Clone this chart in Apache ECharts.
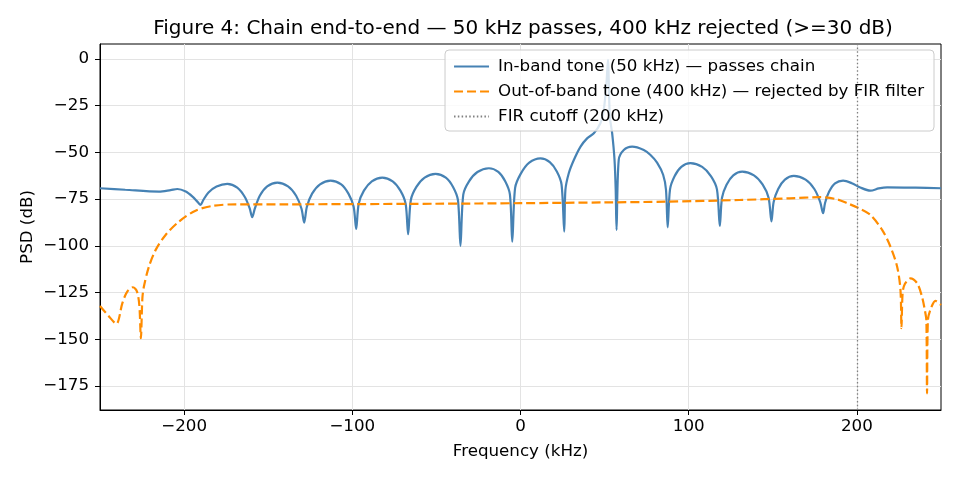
<!DOCTYPE html>
<html>
<head>
<meta charset="utf-8">
<script src="https://cdn.jsdelivr.net/npm/echarts@6/dist/echarts.min.js"></script>
<style>
    html, body {margin: 0; padding: 0; background: #fff;}
    #chart {width: 960px; height: 480px;}
</style>
</head>
<body>
<div id="chart"></div>
<script>
// 带内信号 50 kHz（蓝线）
var inBandKHz = [-250, -235, -215, -208, -204, -199, -195, -192, -190.2, -188.6, -185.5, -180.7, -174.3, -168.4, -163.9, -161.0,
    -159.5, -158.0, -155.0, -150.6, -144.6, -138.2, -133.4, -130.2, -128.6, -127.0, -123.9, -119.2, -112.9, -106.6, -102.3, -99.2,
    -97.7, -96.2, -93.1, -88.4, -82.2, -76.0, -71.4, -68.3, -66.8, -65.2, -61.9, -57.0, -50.5, -44.4, -40.1, -37.2,
    -35.7, -34.0, -30.6, -25.6, -18.8, -13.2, -9.1, -6.3, -4.9, -3.2, 0.1, 5.2, 11.9, 17.4, 21.6, 24.4,
    26.0, 26.7, 28.7, 31.7, 35.7, 39.6, 43.6, 47.5, 49.5, 51.1, 52.0, 53.1, 54.5, 55.9, 56.6, 57.1,
    58.4, 61.4, 66.4, 73.3, 77.3, 81.2, 84.8, 86.5, 87.5, 88.9, 91.6, 95.6, 101.0, 108.0, 113.3, 116.8,
    118.5, 119.8, 122.5, 126.5, 131.8, 138.8, 144.0, 147.5, 149.2, 150.5, 153.2, 157.2, 162.5, 169.5, 174.7, 178.2,
    179.9, 181.1, 183.5, 187.0, 191.8, 197.0, 202.0, 208.0, 213.0, 218.0, 235.0, 250];
var inBandDb = [-69.2, -70.0, -71.0, -70.2, -69.6, -71.0, -73.7, -76.5, -78.1, -75.5, -71.5, -68.3, -66.9, -68.9, -73.9, -80.0,
    -84.7, -80.2, -73.2, -68.2, -66.2, -68.2, -73.2, -80.2, -87.6, -79.1, -72.1, -67.1, -65.1, -67.1, -72.1, -79.1,
    -91.0, -77.5, -70.5, -65.5, -63.5, -65.5, -70.5, -77.5, -93.8, -75.5, -68.5, -63.5, -61.5, -63.5, -68.5, -75.5,
    -100.0, -72.5, -65.5, -60.5, -58.5, -60.5, -65.5, -72.5, -97.8, -69.0, -61.5, -55.5, -53.2, -55.2, -60.2, -67.2,
    -92.4, -70.1, -61.2, -54.1, -46.9, -42.5, -39.8, -34.4, -27.3, -13.0, -0.5, -30.9, -39.8, -54.0, -70.1, -91.5,
    -54.0, -48.7, -46.9, -48.7, -51.4, -55.5, -62.0, -70.0, -90.1, -69.8, -62.8, -57.8, -55.8, -57.8, -62.8, -69.8,
    -89.4, -74.3, -67.3, -62.3, -60.3, -62.3, -67.3, -74.3, -87.0, -76.6, -69.6, -64.6, -62.6, -64.6, -69.6, -76.6,
    -82.6, -77.0, -71.0, -66.6, -65.1, -66.5, -68.8, -70.5, -69.3, -68.7, -68.9, -69.2];
// 带外信号 400 kHz（橙色虚线）
var outBandKHz = [-250, -245, -240.3, -236.7, -233.8, -230.4, -228.0, -226.6, -225.7, -224.8, -223.9, -220.9, -216.9, -211.0, -203.1, -193.2,
    -183.2, -169.4, -140, -100, -50, 0, 50, 87, 130, 160, 178, 188, 195, 201.1, 208, 215,
    219.9, 223.9, 225.9, 226.5, 227.2, 228.5, 231.8, 235.8, 238.7, 240.5, 241.3, 241.7, 242.2, 243.7, 246.7, 250];
var outBandDb = [-132.2, -137.5, -141.8, -130.7, -124.5, -122.2, -124.5, -132.0, -149.5, -128.0, -121.8, -111.1, -102.2, -94.2, -87.1, -81.2,
    -78.7, -77.8, -77.8, -77.7, -77.5, -77.2, -76.8, -76.4, -75.5, -74.6, -74.0, -75.1, -77.5, -79.9, -83.5, -91.5,
    -100.4, -111.1, -123.6, -144.1, -125.0, -120.5, -117.4, -120.0, -127.2, -135.0, -139.7, -179.0, -140.0, -134.3, -129.5, -131.7];
var firCutoffKHz = 200;
var xTicks = [-200, -100, 0, 100, 200];
var yTicks = [-175, -150, -125, -100, -75, -50, -25, 0];

var FONT = 'DejaVu Sans';
var FS = 16.7;

function zip(xs, ys) {
    var out = [];
    for (var i = 0; i < xs.length; i++) {
        out.push([xs[i], ys[i]]);
    }
    return out;
}
//负号用 unicode minus
function fmt(v) {
    return v < 0 ? '\u2212' + Math.abs(v) : String(v);
}

var myChart = echarts.init(document.getElementById('chart'), null, {renderer: 'canvas'});
myChart.setOption({
    animation: false,
    backgroundColor: '#fff',
    title: {
        text: 'Figure 4: Chain end-to-end \u2014 50 kHz passes, 400 kHz rejected (>=30 dB)',
        left: 518,
        top: 14,
        textAlign: 'center',
        textStyle: {fontFamily: FONT, fontSize: 20, fontWeight: 'normal', color: '#000'}
    },
    legend: {
        right: 26,
        top: 50,
        orient: 'vertical',
        padding: [8, 10, 6, 8],
        itemGap: 8,
        itemWidth: 35,
        itemHeight: 17,
        selectedMode: false,
        backgroundColor: 'rgba(255,255,255,0.8)',
        borderColor: '#cccccc',
        borderWidth: 1,
        borderRadius: 4,
        itemStyle: {opacity: 0, color: 'transparent', borderWidth: 0},
        textStyle: {fontFamily: FONT, fontSize: FS, color: '#000', padding: [0, 0, 0, 4]},
        data: ['In-band tone (50 kHz) \u2014 passes chain',
            'Out-of-band tone (400 kHz) \u2014 rejected by FIR filter',
            'FIR cutoff (200 kHz)']
    },
    grid: {
        left: 100, right: 19, top: 44, bottom: 70,
        show: true, borderColor: '#000', borderWidth: 1, backgroundColor: 'transparent'
    },
    xAxis: {
        type: 'value',
        min: -250,
        max: 250,
        name: 'Frequency (kHz)',
        nameLocation: 'middle',
        nameGap: 33,
        nameMoveOverlap: false,
        nameTextStyle: {fontFamily: FONT, fontSize: FS, color: '#000'},
        axisLine: {show: true, onZero: false, lineStyle: {color: '#000'}},
        axisTick: {show: true, length: 5, customValues: xTicks, lineStyle: {color: '#000'}},
        axisLabel: {customValues: xTicks, margin: 8, fontFamily: FONT, fontSize: FS, color: '#000', formatter: fmt},
        splitLine: {show: true, lineStyle: {color: '#e3e3e3', width: 1}}
    },
    yAxis: {
        type: 'value',
        min: -187.9,
        max: 8,
        name: 'PSD (dB)',
        nameLocation: 'middle',
        nameGap: 64,
        nameMoveOverlap: false,
        nameTextStyle: {fontFamily: FONT, fontSize: FS, color: '#000'},
        axisLine: {show: true, onZero: false, lineStyle: {color: '#000'}},
        axisTick: {show: true, length: 5, customValues: yTicks, lineStyle: {color: '#000'}},
        axisLabel: {customValues: yTicks, margin: 11, fontFamily: FONT, fontSize: FS, color: '#000', formatter: fmt},
        splitLine: {show: true, lineStyle: {color: '#e3e3e3', width: 1}}
    },
    series: [
        {
            name: 'In-band tone (50 kHz) \u2014 passes chain',
            type: 'line',
            data: zip(inBandKHz, inBandDb),
            showSymbol: false,
            symbol: 'none',
            smooth: 0.3,
            lineStyle: {color: '#4682b4', width: 2.2},
            itemStyle: {color: '#4682b4'}
        },
        {
            name: 'Out-of-band tone (400 kHz) \u2014 rejected by FIR filter',
            type: 'line',
            data: zip(outBandKHz, outBandDb),
            showSymbol: false,
            symbol: 'none',
            smooth: 0.3,
            lineStyle: {color: '#ff8c00', width: 2.2, type: [9, 4]},
            itemStyle: {color: '#ff8c00'}
        },
        {
            name: 'FIR cutoff (200 kHz)',
            type: 'line',
            data: [],
            symbol: 'none',
            lineStyle: {color: '#808080', width: 1.3, type: [1.5, 2.3]},
            itemStyle: {color: '#808080'},
            markLine: {
                silent: true,
                symbol: 'none',
                label: {show: false},
                lineStyle: {color: '#808080', width: 1.3, type: [1.5, 2.3]},
                data: [{xAxis: firCutoffKHz}]
            }
        }
    ]
});
</script>
</body>
</html>
